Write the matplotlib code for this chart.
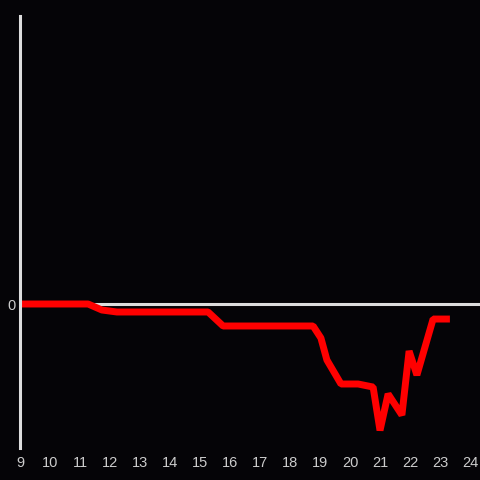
import matplotlib
matplotlib.use("Agg")
import matplotlib.pyplot as plt

# hour of day and value (arbitrary units, 0 = baseline)
hours = [9.0, 11.27, 11.73, 12.23, 15.27, 15.77, 18.77, 19.03, 19.23, 19.7,
         20.27, 20.77, 21.0, 21.27, 21.73, 21.97, 22.23, 22.77, 23.33]
values = [0, 0, -0.375, -0.5, -0.5, -1.375, -1.375, -2.125, -3.5, -5.0,
          -5.0, -5.19, -7.9, -5.625, -6.94, -2.94, -4.44, -0.94, -0.94]
xticks = list(range(9, 25))

bg = "#050407"
fg = "#dddddd"
plt.rcParams['font.family'] = ['Liberation Sans', 'DejaVu Sans']

fig = plt.figure(figsize=(4.8, 4.8), dpi=100, facecolor=bg)
ax = fig.add_axes([20 / 480, 32 / 480, 460 / 480, 432 / 480], facecolor=bg)

ax.axhline(0, color=fg, lw=2.2, zorder=1)
ax.plot(hours, values, color="#ff0000", lw=5, solid_joinstyle="bevel",
        solid_capstyle="butt", zorder=2)

ax.set_xlim(9, 9 + 460 / 30)
ax.set_ylim(-9, 18)
ax.set_xticks(xticks)
ax.set_xticklabels([str(h) for h in xticks])
ax.set_yticks([0])
ax.set_yticklabels(["0"])
ax.tick_params(length=0, colors="#cccccc", labelsize=10.5)
ax.tick_params(axis="x", pad=6)
ax.tick_params(axis="y", pad=3)

for side in ["top", "right", "bottom"]:
    ax.spines[side].set_visible(False)
ax.spines["left"].set_color(fg)
ax.spines["left"].set_linewidth(2.2)

fig.savefig("out.png", dpi=100, facecolor=bg)
